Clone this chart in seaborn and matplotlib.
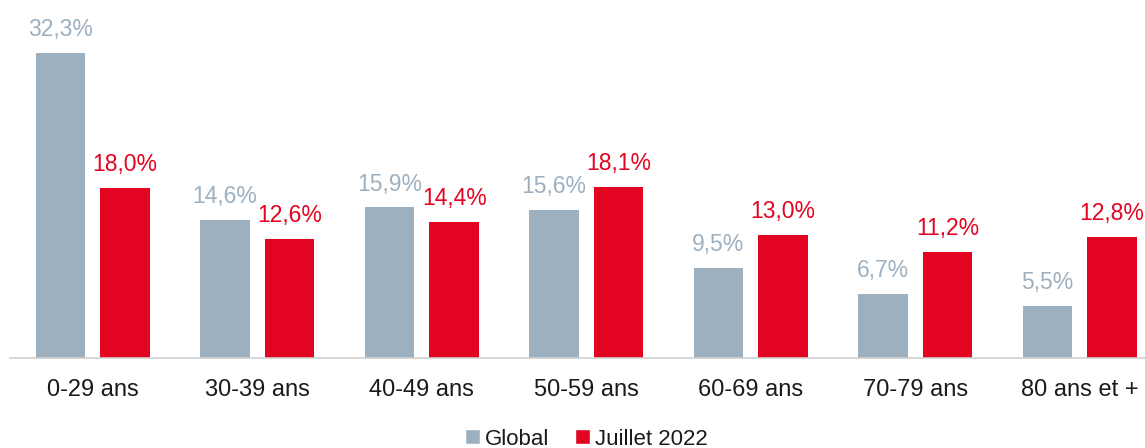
import matplotlib
matplotlib.use("Agg")
import matplotlib.pyplot as plt
import seaborn as sns
import pandas as pd
from matplotlib.patches import Patch

categories = ["0-29 ans", "30-39 ans", "40-49 ans", "50-59 ans", "60-69 ans", "70-79 ans", "80 ans et +"]
global_vals = [32.3, 14.6, 15.9, 15.6, 9.5, 6.7, 5.5]
juillet_vals = [18.0, 12.6, 14.4, 18.1, 13.0, 11.2, 12.8]
series = ["Global", "Juillet 2022"]
colors = ["#9DB0C0", "#E30421"]

df = pd.DataFrame({
    "cat": categories * 2,
    "val": global_vals + juillet_vals,
    "series": [series[0]] * len(categories) + [series[1]] * len(categories),
})

sns.set_theme(style="white")
plt.rcParams['font.family'] = ['Liberation Sans', 'DejaVu Sans']

W, H = 1145, 448
fig = plt.figure(figsize=(W / 100, H / 100), dpi=100)
base_px = 357.5
ax = fig.add_axes([10 / W, (H - base_px) / H, 1 - 10 / W, base_px / H])

sns.barplot(data=df, x="cat", y="val", hue="series", palette=colors,
            width=0.788, gap=0.235, ax=ax, legend=False, saturation=1,
            linewidth=0, edgecolor="none")

ax.set_ylim(0, base_px / 9.44)
ax.set_xlim(-0.503, -0.503 + 1135 / 164.5)
ax.set_xlabel("")
ax.set_ylabel("")
ax.set_yticks([])
for s in ["top", "right", "left"]:
    ax.spines[s].set_visible(False)
ax.spines["bottom"].set_color("#D0D0D0")
ax.spines["bottom"].set_linewidth(1.2)
ax.tick_params(axis="x", length=0, pad=15.5, labelsize=17, colors="#1a1a1a")

label_colors = ["#9DB0C0", "#E30421"]
for cont, lc in zip(ax.containers, label_colors):
    labels = [f"{v:.1f}%".replace(".", ",") for v in cont.datavalues]
    ax.bar_label(cont, labels=labels, padding=8.5, fontsize=16.5, color=lc)

handles = [Patch(facecolor=c, label=s) for c, s in zip(colors, series)]
fig.legend(handles=handles, loc="center", bbox_to_anchor=(0.512, 0.02), ncol=2,
           frameon=False, fontsize=16, handlelength=0.67, handleheight=0.67,
           handletextpad=0.22, columnspacing=1.15, labelcolor="#1a1a1a",
           borderpad=0, borderaxespad=0)

fig.savefig("out.png", dpi=100)
